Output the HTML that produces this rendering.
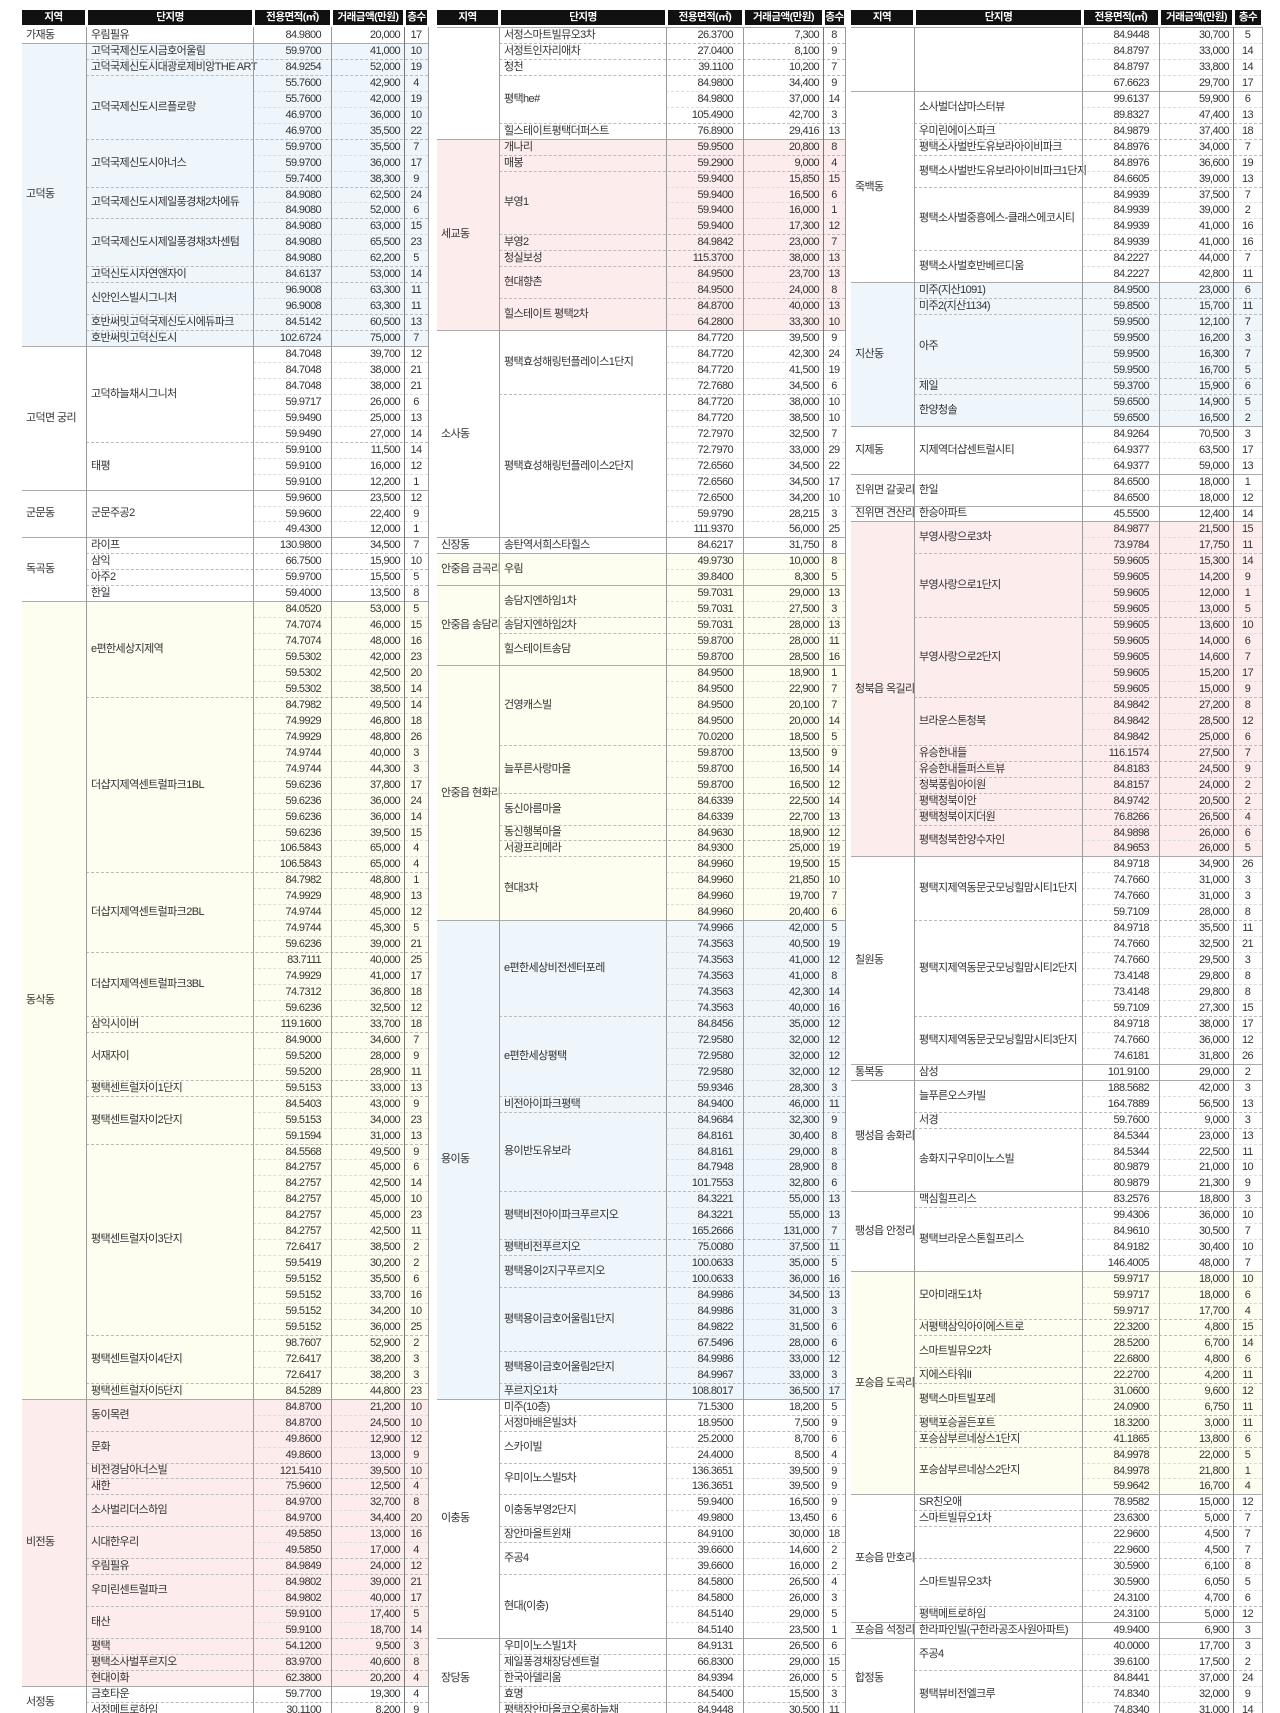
<!DOCTYPE html>
<html><head><meta charset="utf-8">
<style>
html,body{margin:0;padding:0;background:#fff;}
#wrap{position:relative;width:1280px;height:1713px;overflow:hidden;font-family:"Liberation Sans","Noto Sans CJK KR",sans-serif;color:#333;}
.h{position:absolute;top:10px;height:15px;background:#111;color:#fff;font-size:10.5px;font-weight:bold;line-height:15px;text-align:center;letter-spacing:-0.5px;}
.bg{position:absolute;}
.t{position:absolute;font-size:11px;line-height:16px;white-space:nowrap;letter-spacing:-0.6px;}
.vl{position:absolute;width:1px;background:#9a9a9a;}
.hl{position:absolute;height:0;}
</style></head><body>
<div id="wrap"></div>
<script>
// Column group headers
const headers = ['지역','단지명','전용면적(㎡)','거래금액(만원)','층수'];
// Group 1 regions: [region, color, [[complex, [[area, price, floor], ...]], ...]]
const group1 = [
 ['가재동','',[['우림필유',[['84.9800','20,000','17']]]]],
 ['고덕동','b',[
  ['고덕국제신도시금호어울림',[['59.9700','41,000','10']]],
  ['고덕국제신도시대광로제비앙THE ART',[['84.9254','52,000','19']]],
  ['고덕국제신도시르플로랑',[['55.7600','42,900','4'],['55.7600','42,000','19'],['46.9700','36,000','10'],['46.9700','35,500','22']]],
  ['고덕국제신도시아너스',[['59.9700','35,500','7'],['59.9700','36,000','17'],['59.7400','38,300','9']]],
  ['고덕국제신도시제일풍경채2차에듀',[['84.9080','62,500','24'],['84.9080','52,000','6']]],
  ['고덕국제신도시제일풍경채3차센텀',[['84.9080','63,000','15'],['84.9080','65,500','23'],['84.9080','62,200','5']]],
  ['고덕신도시자연앤자이',[['84.6137','53,000','14']]],
  ['신안인스빌시그니처',[['96.9008','63,300','11'],['96.9008','63,300','11']]],
  ['호반써밋고덕국제신도시에듀파크',[['84.5142','60,500','13']]],
  ['호반써밋고덕신도시',[['102.6724','75,000','7']]]]],
 ['고덕면 궁리','',[
  ['고덕하늘채시그니처',[['84.7048','39,700','12'],['84.7048','38,000','21'],['84.7048','38,000','21'],['59.9717','26,000','6'],['59.9490','25,000','13'],['59.9490','27,000','14']]],
  ['태평',[['59.9100','11,500','14'],['59.9100','16,000','12'],['59.9100','12,200','1']]]]],
 ['군문동','',[['군문주공2',[['59.9600','23,500','12'],['59.9600','22,400','9'],['49.4300','12,000','1']]]]],
 ['독곡동','',[['라이프',[['130.9800','34,500','7']]],['삼익',[['66.7500','15,900','10']]],['아주2',[['59.9700','15,500','5']]],['한일',[['59.4000','13,500','8']]]]],
 ['동삭동','y',[
  ['e편한세상지제역',[['84.0520','53,000','5'],['74.7074','46,000','15'],['74.7074','48,000','16'],['59.5302','42,000','23'],['59.5302','42,500','20'],['59.5302','38,500','14']]],
  ['더샵지제역센트럴파크1BL',[['84.7982','49,500','14'],['74.9929','46,800','18'],['74.9929','48,800','26'],['74.9744','40,000','3'],['74.9744','44,300','3'],['59.6236','37,800','17'],['59.6236','36,000','24'],['59.6236','36,000','14'],['59.6236','39,500','15'],['106.5843','65,000','4'],['106.5843','65,000','4']]],
  ['더샵지제역센트럴파크2BL',[['84.7982','48,800','1'],['74.9929','48,900','13'],['74.9744','45,000','12'],['74.9744','45,300','5'],['59.6236','39,000','21']]],
  ['더샵지제역센트럴파크3BL',[['83.7111','40,000','25'],['74.9929','41,000','17'],['74.7312','36,800','18'],['59.6236','32,500','12']]],
  ['삼익시이버',[['119.1600','33,700','18']]],
  ['서재자이',[['84.9000','34,600','7'],['59.5200','28,000','9'],['59.5200','28,900','11']]],
  ['평택센트럴자이1단지',[['59.5153','33,000','13']]],
  ['평택센트럴자이2단지',[['84.5403','43,000','9'],['59.5153','34,000','23'],['59.1594','31,000','13']]],
  ['평택센트럴자이3단지',[['84.5568','49,500','9'],['84.2757','45,000','6'],['84.2757','42,500','14'],['84.2757','45,000','10'],['84.2757','45,000','23'],['84.2757','42,500','11'],['72.6417','38,500','2'],['59.5419','30,200','2'],['59.5152','35,500','6'],['59.5152','33,700','16'],['59.5152','34,200','10'],['59.5152','36,000','25']]],
  ['평택센트럴자이4단지',[['98.7607','52,900','2'],['72.6417','38,200','3'],['72.6417','38,200','3']]],
  ['평택센트럴자이5단지',[['84.5289','44,800','23']]]]],
 ['비전동','p',[
  ['동이목련',[['84.8700','21,200','10'],['84.8700','24,500','10']]],
  ['문화',[['49.8600','12,900','12'],['49.8600','13,000','9']]],
  ['비전경남아너스빌',[['121.5410','39,500','10']]],
  ['새한',[['75.9600','12,500','4']]],
  ['소사벌리더스하임',[['84.9700','32,700','8'],['84.9700','34,400','20']]],
  ['시대한우리',[['49.5850','13,000','16'],['49.5850','17,000','4']]],
  ['우림필유',[['84.9849','24,000','12']]],
  ['우미린센트럴파크',[['84.9802','39,000','21'],['84.9802','40,000','17']]],
  ['태산',[['59.9100','17,400','5'],['59.9100','18,700','14']]],
  ['평택',[['54.1200','9,500','3']]],
  ['평택소사벌푸르지오',[['83.9700','40,600','8']]],
  ['현대이화',[['62.3800','20,200','4']]]]],
 ['서정동','',[['금호타운',[['59.7700','19,300','4']]],['서정메트로하임',[['30.1100','8,200','9']]]]]
];
const group2 = [
 ['','',[
  ['서정스마트빌뮤오3차',[['26.3700','7,300','8']]],
  ['서정트인자리애차',[['27.0400','8,100','9']]],
  ['청천',[['39.1100','10,200','7']]],
  ['평택he#',[['84.9800','34,400','9'],['84.9800','37,000','14'],['105.4900','42,700','3']]],
  ['힐스테이트평택더퍼스트',[['76.8900','29,416','13']]]]],
 ['세교동','p',[
  ['개나리',[['59.9500','20,800','8']]],
  ['매봉',[['59.2900','9,000','4']]],
  ['부영1',[['59.9400','15,850','15'],['59.9400','16,500','6'],['59.9400','16,000','1'],['59.9400','17,300','12']]],
  ['부영2',[['84.9842','23,000','7']]],
  ['청실보성',[['115.3700','38,000','13']]],
  ['현대향촌',[['84.9500','23,700','13'],['84.9500','24,000','8']]],
  ['힐스테이트 평택2차',[['84.8700','40,000','13'],['64.2800','33,300','10']]]]],
 ['소사동','',[
  ['평택효성해링턴플레이스1단지',[['84.7720','39,500','9'],['84.7720','42,300','24'],['84.7720','41,500','19'],['72.7680','34,500','6']]],
  ['평택효성해링턴플레이스2단지',[['84.7720','38,000','10'],['84.7720','38,500','10'],['72.7970','32,500','7'],['72.7970','33,000','29'],['72.6560','34,500','22'],['72.6560','34,500','17'],['72.6500','34,200','10'],['59.9790','28,215','3'],['111.9370','56,000','25']]]]],
 ['신장동','',[['송탄역서희스타힐스',[['84.6217','31,750','8']]]]],
 ['안중읍 금곡리','y',[['우림',[['49.9730','10,000','8'],['39.8400','8,300','5']]]]],
 ['안중읍 송담리','y',[
  ['송담지엔하임1차',[['59.7031','29,000','13'],['59.7031','27,500','3']]],
  ['송담지엔하임2차',[['59.7031','28,000','13']]],
  ['힐스테이트송담',[['59.8700','28,000','11'],['59.8700','28,500','16']]]]],
 ['안중읍 현화리','y',[
  ['건영캐스빌',[['84.9500','18,900','1'],['84.9500','22,900','7'],['84.9500','20,100','7'],['84.9500','20,000','14'],['70.0200','18,500','5']]],
  ['늘푸른사랑마을',[['59.8700','13,500','9'],['59.8700','16,500','14'],['59.8700','16,500','12']]],
  ['동신아름마을',[['84.6339','22,500','14'],['84.6339','22,700','13']]],
  ['동신행복마을',[['84.9630','18,900','12']]],
  ['서광프리메라',[['84.9300','25,000','19']]],
  ['현대3차',[['84.9960','19,500','15'],['84.9960','21,850','10'],['84.9960','19,700','7'],['84.9960','20,400','6']]]]],
 ['용이동','b',[
  ['e편한세상비전센터포레',[['74.9966','42,000','5'],['74.3563','40,500','19'],['74.3563','41,000','12'],['74.3563','41,000','8'],['74.3563','42,300','14'],['74.3563','40,000','16']]],
  ['e편한세상평택',[['84.8456','35,000','12'],['72.9580','32,000','12'],['72.9580','32,000','12'],['72.9580','32,000','12'],['59.9346','28,300','3']]],
  ['비전아이파크평택',[['84.9400','46,000','11']]],
  ['용이반도유보라',[['84.9684','32,300','9'],['84.8161','30,400','8'],['84.8161','29,000','8'],['84.7948','28,900','8'],['101.7553','32,800','6']]],
  ['평택비전아이파크푸르지오',[['84.3221','55,000','13'],['84.3221','55,000','13'],['165.2666','131,000','7']]],
  ['평택비전푸르지오',[['75.0080','37,500','11']]],
  ['평택용이2지구푸르지오',[['100.0633','35,000','5'],['100.0633','36,000','16']]],
  ['평택용이금호어울림1단지',[['84.9986','34,500','13'],['84.9986','31,000','3'],['84.9822','31,500','6'],['67.5496','28,000','6']]],
  ['평택용이금호어울림2단지',[['84.9986','33,000','12'],['84.9967','33,000','3']]],
  ['푸르지오1차',[['108.8017','36,500','17']]]]],
 ['이충동','',[
  ['미주(10층)',[['71.5300','18,200','5']]],
  ['서정마배은빌3차',[['18.9500','7,500','9']]],
  ['스카이빌',[['25.2000','8,700','6'],['24.4000','8,500','4']]],
  ['우미이노스빌5차',[['136.3651','39,500','9'],['136.3651','39,500','9']]],
  ['이충동부영2단지',[['59.9400','16,500','9'],['49.9800','13,450','6']]],
  ['장안마을트윈채',[['84.9100','30,000','18']]],
  ['주공4',[['39.6600','14,600','2'],['39.6600','16,000','2']]],
  ['현대(이충)',[['84.5800','26,500','4'],['84.5800','26,000','3'],['84.5140','29,000','5'],['84.5140','23,500','1']]]]],
 ['장당동','',[
  ['우미이노스빌1차',[['84.9131','26,500','6']]],
  ['제일풍경채장당센트럴',[['66.8300','29,000','15']]],
  ['한국아델리움',[['84.9394','26,000','5']]],
  ['효명',[['84.5400','15,500','3']]],
  ['평택장안마을코오롱하늘채',[['84.9448','30,500','11']]]]]
];
const group3 = [
 ['','',[['',[['84.9448','30,700','5'],['84.8797','33,000','14'],['84.8797','33,800','14'],['67.6623','29,700','17']]]]],
 ['죽백동','',[
  ['소사벌더샵마스터뷰',[['99.6137','59,900','6'],['89.8327','47,400','13']]],
  ['우미린에이스파크',[['84.9879','37,400','18']]],
  ['평택소사벌반도유보라아이비파크',[['84.8976','34,000','7']]],
  ['평택소사벌반도유보라아이비파크1단지',[['84.8976','36,600','19'],['84.6605','39,000','13']]],
  ['평택소사벌중흥에스-클래스에코시티',[['84.9939','37,500','7'],['84.9939','39,000','2'],['84.9939','41,000','16'],['84.9939','41,000','16']]],
  ['평택소사벌호반베르디움',[['84.2227','44,000','7'],['84.2227','42,800','11']]]]],
 ['지산동','b',[
  ['미주(지산1091)',[['84.9500','23,000','6']]],
  ['미주2(지산1134)',[['59.8500','15,700','11']]],
  ['아주',[['59.9500','12,100','7'],['59.9500','16,200','3'],['59.9500','16,300','7'],['59.9500','16,700','5']]],
  ['제일',[['59.3700','15,900','6']]],
  ['한양청솔',[['59.6500','14,900','5'],['59.6500','16,500','2']]]]],
 ['지제동','',[['지제역더샵센트럴시티',[['84.9264','70,500','3'],['64.9377','63,500','17'],['64.9377','59,000','13']]]]],
 ['진위면 갈곶리','',[['한일',[['84.6500','18,000','1'],['84.6500','18,000','12']]]]],
 ['진위면 견산리','',[['한승아파트',[['45.5500','12,400','14']]]]],
 ['청북읍 옥길리','p',[
  ['부영사랑으로3차',[['84.9877','21,500','15'],['73.9784','17,750','11']]],
  ['부영사랑으로1단지',[['59.9605','15,300','14'],['59.9605','14,200','9'],['59.9605','12,000','1'],['59.9605','13,000','5']]],
  ['부영사랑으로2단지',[['59.9605','13,600','10'],['59.9605','14,000','6'],['59.9605','14,600','7'],['59.9605','15,200','17'],['59.9605','15,000','9']]],
  ['브라운스톤청북',[['84.9842','27,200','8'],['84.9842','28,500','12'],['84.9842','25,000','6']]],
  ['유승한내들',[['116.1574','27,500','7']]],
  ['유승한내들퍼스트뷰',[['84.8183','24,500','9']]],
  ['청북풍림아이원',[['84.8157','24,000','2']]],
  ['평택청북이안',[['84.9742','20,500','2']]],
  ['평택청북이지더원',[['76.8266','26,500','4']]],
  ['평택청북한양수자인',[['84.9898','26,000','6'],['84.9653','26,000','5']]]]],
 ['칠원동','',[
  ['평택지제역동문굿모닝힐맘시티1단지',[['84.9718','34,900','26'],['74.7660','31,000','3'],['74.7660','31,000','3'],['59.7109','28,000','8']]],
  ['평택지제역동문굿모닝힐맘시티2단지',[['84.9718','35,500','11'],['74.7660','32,500','21'],['74.7660','29,500','3'],['73.4148','29,800','8'],['73.4148','29,800','8'],['59.7109','27,300','15']]],
  ['평택지제역동문굿모닝힐맘시티3단지',[['84.9718','38,000','17'],['74.7660','36,000','12'],['74.6181','31,800','26']]]]],
 ['통복동','',[['삼성',[['101.9100','29,000','2']]]]],
 ['팽성읍 송화리','',[
  ['늘푸른오스카빌',[['188.5682','42,000','3'],['164.7889','56,500','13']]],
  ['서경',[['59.7600','9,000','3']]],
  ['송화지구우미이노스빌',[['84.5344','23,000','13'],['84.5344','22,500','11'],['80.9879','21,000','10'],['80.9879','21,300','9']]]]],
 ['팽성읍 안정리','',[
  ['맥심힐프리스',[['83.2576','18,800','3']]],
  ['평택브라운스톤힐프리스',[['99.4306','36,000','10'],['84.9610','30,500','7'],['84.9182','30,400','10'],['146.4005','48,000','7']]]]],
 ['포승읍 도곡리','y',[
  ['모아미래도1차',[['59.9717','18,000','10'],['59.9717','18,000','6'],['59.9717','17,700','4']]],
  ['서평택삼익아이에스트로',[['22.3200','4,800','15']]],
  ['스마트빌뮤오2차',[['28.5200','6,700','14'],['22.6800','4,800','6']]],
  ['지에스타워II',[['22.2700','4,200','11']]],
  ['평택스마트빌포레',[['31.0600','9,600','12'],['24.0900','6,750','11']]],
  ['평택포승골든포트',[['18.3200','3,000','11']]],
  ['포승삼부르네상스1단지',[['41.1865','13,800','6']]],
  ['포승삼부르네상스2단지',[['84.9978','22,000','5'],['84.9978','21,800','1'],['59.9642','16,700','4']]]]],
 ['포승읍 만호리','',[
  ['SR친오애',[['78.9582','15,000','12']]],
  ['스마트빌뮤오1차',[['23.6300','5,000','7']]],
  ['',[['22.9600','4,500','7'],['22.9600','4,500','7']]],
  ['스마트빌뮤오3차',[['30.5900','6,100','8'],['30.5900','6,050','5'],['24.3100','4,700','6']]],
  ['평택메트로하임',[['24.3100','5,000','12']]]]],
 ['포승읍 석정리','',[['한라파인빌(구한라공조사원아파트)',[['49.9400','6,900','3']]]]],
 ['합정동','',[
  ['주공4',[['40.0000','17,700','3'],['39.6100','17,500','2']]],
  ['평택뷰비전엘크루',[['84.8441','37,000','24'],['74.8340','32,000','9'],['74.8340','31,000','14']]]]]
];
const groups = [group1, group2, group3];
const colX = [[22,86,253,331,404,428],[437,499,666,743,823,845],[851,914,1082,1159,1233,1262]];
const BG = {b:'#eef5fb',p:'#fcecec',y:'#fdfdf0','':'transparent'};
const RH = 15.95, TOP = 27;
const wrap = document.getElementById('wrap');
function mk(cls, css, txt){
  const d = document.createElement('div');
  d.className = cls;
  d.style.cssText = css;
  if (txt !== undefined) d.textContent = txt;
  wrap.appendChild(d);
  return d;
}
groups.forEach((grp, gi) => {
  const X = colX[gi];
  // headers
  headers.forEach((h, hi) => {
    const x1 = X[hi] + (hi === 0 ? 0 : 2), x2 = X[hi+1] - 1;
    const e = mk('h', `left:${x1}px;width:${x2-x1}px;`, h);
    
    
  });
  let row = 0;
  grp.forEach((reg, ri) => {
    const [rname, col, items] = reg;
    const n = items.reduce((s, it) => s + it[1].length, 0);
    const y0 = TOP + row * RH, hgt = n * RH;
    const bgEl = mk('bg', `left:${X[0]}px;top:${y0}px;width:${X[5]-X[0]}px;height:${hgt}px;background:${BG[col]};`);
    
    
    if (rname) {
      const rl = mk('t', `left:${X[0]+4}px;top:${y0 + hgt/2 - 8}px;`, rname);
      
      
    }
    if (ri > 0 || gi > 0) {
      const sl = mk('hl', `left:${X[0]}px;top:${y0}px;width:${X[5]-X[0]}px;border-top:1px solid #aaa;`);
      
      
    }
    let r2 = row;
    items.forEach((it, ii) => {
      const [cname, rows] = it;
      const cy = TOP + r2 * RH, ch = rows.length * RH;
      if (ii > 0) {
        const dl = mk('hl', `left:${X[1]}px;top:${cy}px;width:${X[5]-X[1]}px;border-top:1px dashed #bbb;`);
        
        
      }
      if (cname) {
        const cl = mk('t', `left:${X[1]+5}px;top:${cy + ch/2 - 8}px;`, cname);
        
        
      }
      rows.forEach((rw, k) => {
        const y = TOP + (r2 + k) * RH;
        if (k > 0) {
          const rl2 = mk('hl', `left:${X[2]}px;top:${y}px;width:${X[5]-X[2]}px;border-top:1px dashed #ddd;`);
          
          
        }
        const a = mk('t', `left:${X[2]}px;width:${X[3]-X[2]-10}px;text-align:right;top:${y}px;`, rw[0]);
        
        
        const p = mk('t', `left:${X[3]}px;width:${X[4]-X[3]-4}px;text-align:right;top:${y}px;`, rw[1]);
        
        
        const f = mk('t', `left:${X[4]}px;width:${X[5]-X[4]}px;text-align:center;top:${y}px;`, rw[2]);
        
        
      });
      r2 += rows.length;
    });
    row += n;
  });
  // vertical lines
  [1,2,3,4,5].forEach(ci => {
    const v = mk('vl', `left:${X[ci]}px;top:${TOP}px;height:${1713-TOP}px;${ci===4?'background:#777;':''}`);
    
    
  });
});
</script>
</body></html>
